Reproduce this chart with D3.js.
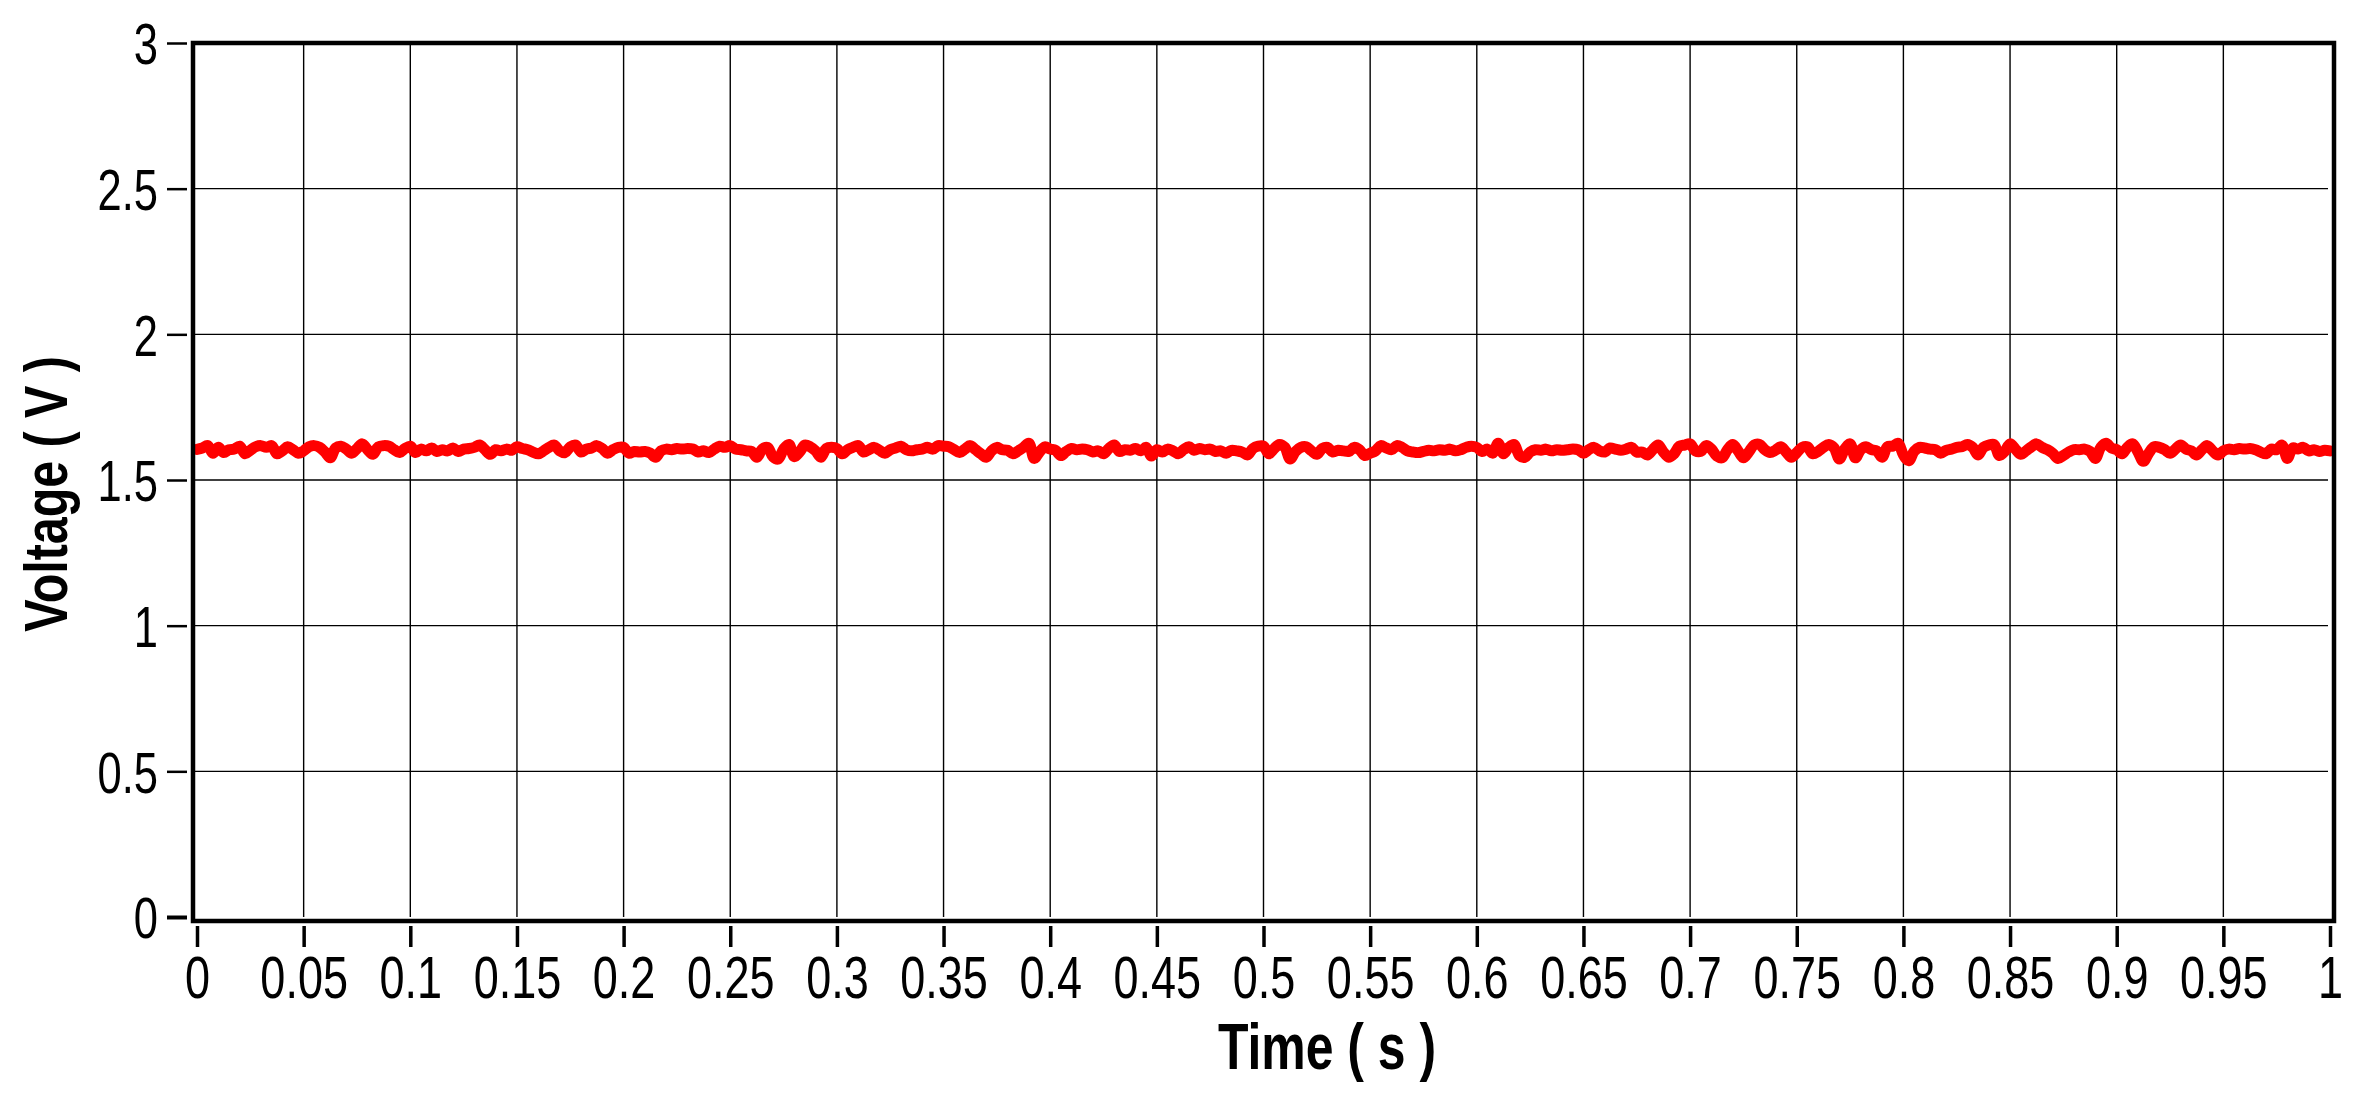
<!DOCTYPE html>
<html>
<head>
<meta charset="utf-8">
<script src="https://cdn.jsdelivr.net/npm/d3@7"></script>
<style>
  body { margin: 0; background: #fff; }
  .svgStyle { display: block; background: #fff; }
  .tick text { font-family: "Liberation Sans", Arial, sans-serif; fill: #000; }
  .axisTitle { font-family: "Liberation Sans", Arial, sans-serif; font-weight: bold; fill: #000; }
</style>
</head>
<body>
<script>
const SVG_WIDTH = 2373, SVG_HEIGHT = 1104;
const MARGIN_TOP = 43, MARGIN_LEFT = 197, MARGIN_BOTTOM = 184, MARGIN_RIGHT = 40;
const NARROW = 0.75;       // horizontal squeeze to mimic a condensed face
const NARROW_BOLD = 0.78;

// tick values
const xTicks = [0, 0.05, 0.1, 0.15, 0.2, 0.25, 0.3, 0.35, 0.4, 0.45, 0.5, 0.55, 0.6, 0.65, 0.7, 0.75, 0.8, 0.85, 0.9, 0.95, 1];
const yTicks = [0, 0.5, 1, 1.5, 2, 2.5, 3];

// sampling step of the trace (s)
const sampleStep = 0.0025;

// voltage samples (V), one row per 0.05 s
const voltage = [
  1.605, 1.610, 1.618, 1.592, 1.612, 1.594, 1.604, 1.606, 1.616, 1.590, 1.602, 1.614, 1.618, 1.612, 1.618, 1.590, 1.600, 1.614, 1.604, 1.592,
  1.600, 1.614, 1.618, 1.612, 1.596, 1.576, 1.610, 1.616, 1.606, 1.592, 1.608, 1.624, 1.604, 1.588, 1.614, 1.618, 1.616, 1.604, 1.594, 1.608,
  1.616, 1.594, 1.606, 1.600, 1.610, 1.598, 1.604, 1.600, 1.610, 1.598, 1.606, 1.608, 1.612, 1.620, 1.604, 1.588, 1.604, 1.600, 1.606, 1.602,
  1.614, 1.608, 1.604, 1.596, 1.590, 1.600, 1.612, 1.620, 1.600, 1.594, 1.614, 1.620, 1.596, 1.606, 1.610, 1.618, 1.608, 1.592, 1.604, 1.612,
  1.612, 1.592, 1.598, 1.596, 1.598, 1.592, 1.578, 1.600, 1.606, 1.604, 1.608, 1.606, 1.608, 1.606, 1.596, 1.600, 1.594, 1.606, 1.616, 1.612,
  1.618, 1.606, 1.604, 1.600, 1.598, 1.578, 1.606, 1.612, 1.580, 1.572, 1.606, 1.622, 1.580, 1.596, 1.620, 1.614, 1.600, 1.578, 1.608, 1.612,
  1.608, 1.590, 1.604, 1.612, 1.618, 1.596, 1.604, 1.612, 1.602, 1.592, 1.604, 1.610, 1.616, 1.604, 1.600, 1.604, 1.606, 1.612, 1.606, 1.618,
  1.616, 1.614, 1.604, 1.594, 1.606, 1.618, 1.604, 1.590, 1.578, 1.600, 1.612, 1.604, 1.602, 1.590, 1.600, 1.612, 1.626, 1.574, 1.596, 1.614,
  1.606, 1.602, 1.584, 1.598, 1.608, 1.604, 1.606, 1.604, 1.596, 1.600, 1.590, 1.608, 1.620, 1.598, 1.604, 1.602, 1.608, 1.600, 1.612, 1.582,
  1.604, 1.596, 1.606, 1.600, 1.590, 1.604, 1.614, 1.602, 1.608, 1.604, 1.606, 1.598, 1.600, 1.592, 1.602, 1.600, 1.596, 1.586, 1.608, 1.616,
  1.616, 1.590, 1.608, 1.622, 1.612, 1.572, 1.598, 1.612, 1.614, 1.600, 1.588, 1.608, 1.612, 1.596, 1.602, 1.600, 1.598, 1.612, 1.604, 1.584,
  1.592, 1.600, 1.618, 1.610, 1.604, 1.618, 1.612, 1.600, 1.596, 1.594, 1.598, 1.602, 1.600, 1.604, 1.602, 1.606, 1.600, 1.604, 1.612, 1.616,
  1.612, 1.598, 1.606, 1.592, 1.626, 1.590, 1.612, 1.622, 1.584, 1.578, 1.596, 1.604, 1.602, 1.606, 1.600, 1.604, 1.602, 1.604, 1.606, 1.604,
  1.592, 1.604, 1.612, 1.600, 1.596, 1.610, 1.606, 1.602, 1.606, 1.612, 1.596, 1.596, 1.586, 1.604, 1.620, 1.596, 1.578, 1.590, 1.616, 1.620,
  1.624, 1.600, 1.598, 1.618, 1.606, 1.582, 1.576, 1.604, 1.622, 1.600, 1.576, 1.596, 1.620, 1.622, 1.604, 1.594, 1.602, 1.614, 1.596, 1.578,
  1.594, 1.612, 1.614, 1.590, 1.598, 1.612, 1.622, 1.610, 1.572, 1.606, 1.624, 1.576, 1.604, 1.614, 1.604, 1.600, 1.578, 1.614, 1.616, 1.626,
  1.586, 1.566, 1.598, 1.612, 1.610, 1.606, 1.604, 1.592, 1.602, 1.606, 1.612, 1.614, 1.622, 1.612, 1.586, 1.612, 1.620, 1.622, 1.584, 1.598,
  1.624, 1.606, 1.588, 1.600, 1.614, 1.624, 1.612, 1.604, 1.592, 1.574, 1.584, 1.596, 1.604, 1.604, 1.606, 1.598, 1.574, 1.612, 1.626, 1.610,
  1.604, 1.590, 1.612, 1.624, 1.596, 1.564, 1.592, 1.614, 1.612, 1.604, 1.592, 1.606, 1.620, 1.606, 1.600, 1.586, 1.604, 1.618, 1.600, 1.586,
  1.600, 1.606, 1.604, 1.608, 1.606, 1.608, 1.604, 1.596, 1.590, 1.606, 1.604, 1.620, 1.574, 1.610, 1.606, 1.612, 1.600, 1.604, 1.598, 1.602,
  1.600
];

let margin = null, width = null, height = null;
let svg = null;
let x, y = null;

setupCanvasSize();
appendSvg("body");
setupXScale();
setupYScale();
appendGrid();
appendLine();
appendFrame();
appendXAxis();
appendYAxis();
appendTitles();

function setupCanvasSize() {
  margin = {top: MARGIN_TOP, left: MARGIN_LEFT, bottom: MARGIN_BOTTOM, right: MARGIN_RIGHT};
  width = SVG_WIDTH - margin.left - margin.right;
  height = SVG_HEIGHT - margin.top - margin.bottom;
}

function appendSvg(domElement) {
  svg = d3.select(domElement).append("svg")
    .attr("width", SVG_WIDTH)
    .attr("height", SVG_HEIGHT)
    .attr("class", "svgStyle");
}

function setupXScale() {
  x = d3.scaleLinear()
    .domain([0, 1])
    .range([margin.left, margin.left + width - 3]);
}

function setupYScale() {
  y = d3.scaleLinear()
    .domain([0, 3])
    .range([margin.top + height - 3, margin.top]);
}

// thin black grid at every tick
function appendGrid() {
  const g = svg.append("g").attr("stroke", "#000").attr("stroke-width", 1.4);
  g.selectAll(".vgrid")
    .data(xTicks.filter(d => d > 0 && d < 1))
    .join("line")
    .attr("x1", d => x(d)).attr("x2", d => x(d))
    .attr("y1", y(3)).attr("y2", y(0));
  g.selectAll(".hgrid")
    .data(yTicks.filter(d => d > 0 && d < 3))
    .join("line")
    .attr("x1", x(0) - 4).attr("x2", x(1) - 2)
    .attr("y1", d => y(d)).attr("y2", d => y(d));
}

function appendLine() {
  const line = d3.line()
    .x((d, i) => x(i * sampleStep))
    .y(d => y(d))
    .curve(d3.curveCatmullRom);
  svg.append("path")
    .datum(voltage)
    .attr("fill", "none")
    .attr("stroke", "#ff0000")
    .attr("stroke-width", 11)
    .attr("stroke-linejoin", "round")
    .attr("stroke-linecap", "round")
    .attr("d", line);
}

function appendFrame() {
  svg.append("rect")
    .attr("x", x(0) - 4)
    .attr("y", y(3))
    .attr("width", x(1) - x(0) + 8)
    .attr("height", y(0) - y(3) + 4)
    .attr("fill", "none")
    .attr("stroke", "#000")
    .attr("stroke-width", 4.5);
}

function appendXAxis() {
  const ax = svg.append("g")
    .attr("transform", `translate(0, ${y(0) + 9})`)
    .call(d3.axisBottom(x).tickValues(xTicks).tickSize(21).tickPadding(8).tickFormat(d => String(d)));
  ax.select(".domain").remove();
  ax.selectAll(".tick line").attr("stroke", "#000").attr("stroke-width", 3.5);
  ax.selectAll(".tick text")
    .style("font-size", "60px")
    .attr("transform", `scale(${NARROW}, 1)`);
}

function appendYAxis() {
  const ax = svg.append("g")
    .attr("transform", `translate(${x(0) - 10}, 0)`)
    .call(d3.axisLeft(y).tickValues(yTicks).tickSize(20).tickPadding(9).tickFormat(d => String(d)));
  ax.select(".domain").remove();
  ax.selectAll(".tick line").attr("stroke", "#000").attr("stroke-width", d => d === 0 ? 4 : 2.5);
  ax.selectAll(".tick text")
    .style("font-size", "58px")
    .attr("dy", "0.36em")
    .attr("x", 0)
    .attr("transform", `translate(-29, 0) scale(${NARROW}, 1)`);
}

function appendTitles() {
  svg.append("text")
    .attr("class", "axisTitle")
    .attr("transform", `translate(1327, 1069) scale(${NARROW_BOLD}, 1)`)
    .attr("text-anchor", "middle")
    .style("font-size", "64px")
    .text("Time ( s )");

  svg.append("text")
    .attr("class", "axisTitle")
    .attr("transform", `translate(67, 494) rotate(-90) scale(${NARROW_BOLD}, 1)`)
    .attr("text-anchor", "middle")
    .style("font-size", "62px")
    .text("Voltage ( V )");
}
</script>
</body>
</html>
